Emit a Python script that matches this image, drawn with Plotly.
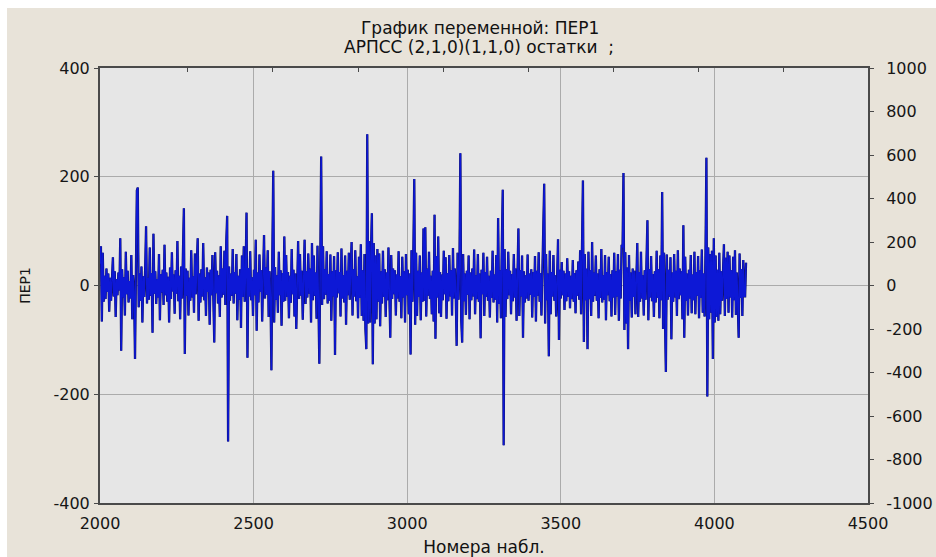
import plotly.graph_objects as go

# ---- data -------------------------------------------------------------
title_line1 = "График переменной: ПЕР1"
title_line2 = "АРПСС (2,1,0)(1,1,0) остатки  ;"
x_title = "Номера набл."
y_title = "ПЕР1"

obs_start = 2000      # first observation number
obs_step = 3

residuals = [
    40, 72, -66, 60, -30, 18, -25, 31, -12, 22, -48, 14, -28, 9, 52, -20, 26, -58, 12, -18,
    24, -9, 87, -120, 30, -22, 15, -55, 62, -16, 27, -31, 8, -24, 56, -62, 19, -12, -135, 28,
    175, 180, -40, 22, -28, 35, -68, 17, -21, 30, 109, -33, 14, -26, 70, -19, 23, -87, 95, -15,
    26, -34, 12, -22, 58, -64, 21, -13, 29, -36, 75, -18, 24, -30, 16, -68, 33, -25, 61, -11,
    20, -52, 28, -15, 82, -29, 18, -62, 35, -24, 66, 142, -126, 31, -19, 27, -55, 14, -28, 65,
    -22, 17, -50, 59, -16, 25, 87, -65, 22, -31, 30, -20, 78, -27, 15, -56, 33, -12, 24, -72,
    29, -18, 56, -25, -105, 61, -14, 27, -33, 19, -58, 72, -22, 31, -17, 64, -36, 80, 128, -287,
    35, -28, 22, -19, 67, -33, 25, -15, 58, -64, 18, -26, 30, -78, 55, -21, 72, -30, 26, 134,
    -133, 32, -20, 63, -27, 15, -56, 29, -18, 84, -83, 24, -31, 57, -12, 28, -66, 21, 93, -24,
    33, -17, 65, -58, 26, -22, -156, 60, 211, -68, 34, -26, 19, -50, 62, -18, 28, -74, 23, -30,
    90, -28, 56, -21, 25, -60, 18, -32, 67, -16, 29, -57, 22, -80, 31, 82, -25, 58, -19, 27,
    -63, 20, 84, -34, 26, -22, 59, -15, 31, -68, 78, -27, 55, -19, 24, -61, 73, -30, -144, 40,
    237, -36, 72, -25, 30, -17, 63, -33, 21, -28, 57, -65, 26, -20, 54, -128, 28, -22, 61, -14,
    25, -57, 68, -24, 19, -31, 55, -72, 27, -18, 60, -26, 22, 80, -55, 30, -20, 65, -29, 17,
    -60, 53, -23, 76, -56, 28, -65, 58, -80, -117, 278, -70, 82, -68, 60, 133, -145, 78, -70, 55,
    -62, 67, -30, 59, -75, 26, -33, 64, -21, 30, -58, 24, -27, 70, -19, -96, 56, -25, 31, -16,
    28, -55, 20, -24, 63, -30, 17, -60, 53, -22, 26, -68, 58, -18, 29, -53, 22, -127, 65, -30,
    60, 196, -72, 60, -56, 27, -21, 55, -64, 24, -30, 105, -28, 107, -57, 31, -19, 62, -25, 18,
    -53, 27, -66, 130, -98, 54, -22, 90, -51, 25, -58, 20, -27, 64, -16, 52, -61, 23, -29, 56,
    -20, 28, -55, 69, -24, 31, -18, -111, 60, -26, 33, 243, -65, -105, 58, -29, 22, -54, 27, -17,
    55, -62, 24, -27, 31, -20, 66, -53, 19, -25, 58, -30, 22, -97, 29, -16, 60, -56, 25, -21,
    53, -28, 18, -59, 27, -23, 64, -31, 20, -26, 56, -68, 124, -34, 28, -60, 75, 176, -294, 67,
    -58, 30, -25, 62, -18, 27, -53, 21, -29, 58, -22, 31, -65, 24, 105, -56, 28, -20, 55, -96,
    26, -31, 19, -24, 57, -28, 22, -17, 30, -59, 25, -21, 54, -66, 27, -19, 61, -30, 23, -55,
    30, 62, 187, -70, 58, -27, 22, -130, 64, -53, 25, -20, 56, -28, 19, -57, 31, 85, -100, 29,
    -24, 43, -18, 27, -45, 22, -29, 50, -21, 26, -42, 18, -25, 47, -30, 23, -51, 28, -19, 44,
    -26, 65, -53, 60, 193, -104, 58, -27, 31, -117, 62, -25, 28, -56, 80, -30, 24, -19, 55, -28,
    22, -60, 30, -23, 67, -31, 19, -26, 56, -64, 25, -18, 53, -29, 21, -57, 28, -22, 60, -54,
    26, -20, 58, -65, 29, -24, 75, 70, 207, -82, 61, -70, 33, -117, 56, -28, 24, -59, 31, -21,
    27, -53, 20, 78, -58, 25, -30, 62, -24, 19, -55, 28, -26, 57, 120, -64, 30, -22, 54, -29,
    21, -58, 26, -31, 64, -23, 30, -60, 55, -27, 172, -80, 60, -53, -159, 57, -26, 29, -21, 52,
    -99, 24, -30, 58, -22, 27, -56, 65, -25, 31, -18, 26, -62, 111, -96, 53, -28, 22, -55, 29,
    -24, 56, -51, 20, -27, 62, -53, 25, -19, 54, -60, 28, -23, 66, -50, 22, -57, 60, 235, -204,
    70, -62, 58, -50, 64, -135, 87, -68, 55, -58, 29, -65, 60, -53, 26, -28, 57, 76, -56, 51,
    -25, 62, -50, 55, -22, 28, -59, 53, -27, 65, -54, 24, -31, -96, 59, -23, 30, -56, 47, -20,
    -20, 42,
]
obs_numbers = [obs_start + obs_step * i for i in range(len(residuals))]

x_ticks = [2000, 2500, 3000, 3500, 4000, 4500]
y_left_ticks = [-400, -200, 0, 200, 400]
y_right_ticks = [-1000, -800, -600, -400, -200, 0, 200, 400, 600, 800, 1000]
top_minor_ticks = [2285, 2562, 2840, 3117, 3394, 3671, 3949, 4226]

# ---- figure -----------------------------------------------------------
W, H = 936, 557
ML, MR, MT, MB = 100, 68, 68, 54
PW, PH = W - ML - MR, H - MT - MB

tick_font = dict(family="DejaVu Sans", size=16, color="#161616")
title_font = dict(family="DejaVu Sans", size=17, color="#111111")
ytitle_font = dict(family="DejaVu Sans", size=14, color="#151515")
axis_col = "#4a4a4a"
grid_col = "#ababab"

fig = go.Figure()
# dark under-stroke gives the navy edges seen on the blue residual line
fig.add_trace(go.Scatter(
    x=obs_numbers, y=residuals, mode="lines",
    line=dict(color="#10105a", width=2.3),
    showlegend=False, hoverinfo="skip",
))
fig.add_trace(go.Scatter(
    x=obs_numbers, y=residuals, mode="lines",
    line=dict(color="#0d18d6", width=1.5),
    showlegend=False, hoverinfo="x+y",
))
# dummy traces so the secondary axes get drawn
fig.add_trace(go.Scatter(x=[None], y=[None], yaxis="y2", showlegend=False, hoverinfo="skip"))
fig.add_trace(go.Scatter(x=[None], y=[None], xaxis="x2", showlegend=False, hoverinfo="skip"))

fig.update_layout(
    width=W, height=H,
    margin=dict(l=ML, r=MR, t=MT, b=MB, autoexpand=False),
    paper_bgcolor="#e8e3d9",
    plot_bgcolor="#e6e6e6",
    xaxis=dict(
        range=[2000, 4500], tickvals=x_ticks, ticktext=[str(v) for v in x_ticks],
        showgrid=True, gridcolor=grid_col, gridwidth=1, automargin=False,
        zeroline=False, showline=True, linecolor=axis_col, linewidth=2,
        ticks="", tickfont=tick_font, ticklabelstandoff=5,
        title=dict(text=x_title, font=title_font, standoff=17),
    ),
    xaxis2=dict(
        range=[2000, 4500], overlaying="x", side="top", anchor="y", automargin=False,
        tickvals=top_minor_ticks, showticklabels=False,
        ticks="inside", ticklen=4, tickcolor=axis_col, tickwidth=1,
        showgrid=False, zeroline=False, showline=True, linecolor=axis_col, linewidth=2,
    ),
    yaxis=dict(
        range=[-400, 400], tickvals=y_left_ticks, ticktext=[str(v) for v in y_left_ticks],
        showgrid=True, gridcolor=grid_col, gridwidth=1, automargin=False,
        zeroline=False, showline=True, linecolor=axis_col, linewidth=2,
        ticks="outside", ticklen=4, tickcolor=axis_col, tickwidth=1,
        tickfont=tick_font, ticklabelstandoff=1,
        title=dict(text=y_title, font=ytitle_font, standoff=20),
    ),
    yaxis2=dict(
        range=[-1000, 1000], tickvals=y_right_ticks, ticktext=[str(v) for v in y_right_ticks],
        overlaying="y", side="right", anchor="x", automargin=False,
        showgrid=False, zeroline=False, showline=True, linecolor=axis_col, linewidth=2,
        ticks="outside", ticklen=4, tickcolor=axis_col, tickwidth=1,
        tickfont=tick_font, ticklabelstandoff=9,
    ),
    annotations=[
        dict(text=title_line1, xref="paper", yref="paper", x=(480 - ML) / PW,
             y=1 + (MT - 28) / PH, xanchor="center", yanchor="middle",
             showarrow=False, font=title_font),
        dict(text=title_line2, xref="paper", yref="paper", x=(479 - ML) / PW,
             y=1 + (MT - 47) / PH, xanchor="center", yanchor="middle",
             showarrow=False, font=title_font),
    ],
    shapes=[
        # white strips at the top and left edge of the picture
        dict(type="rect", xref="paper", yref="paper", layer="above", line=dict(width=0),
             fillcolor="white", x0=-ML / PW, x1=(PW + MR) / PW,
             y0=1 + (MT - 8) / PH, y1=1 + MT / PH),
        dict(type="rect", xref="paper", yref="paper", layer="above", line=dict(width=0),
             fillcolor="white", x0=-ML / PW, x1=-(ML - 7) / PW,
             y0=-MB / PH, y1=1 + MT / PH),
    ],
)

fig.write_html(
    "out.html",
    config={"displayModeBar": False},
    post_script=(
        "document.documentElement.style.margin='0px';"
        "document.documentElement.style.overflow='hidden';"
        "document.body.style.margin='0px';document.body.style.overflow='hidden';"
    ),
)
